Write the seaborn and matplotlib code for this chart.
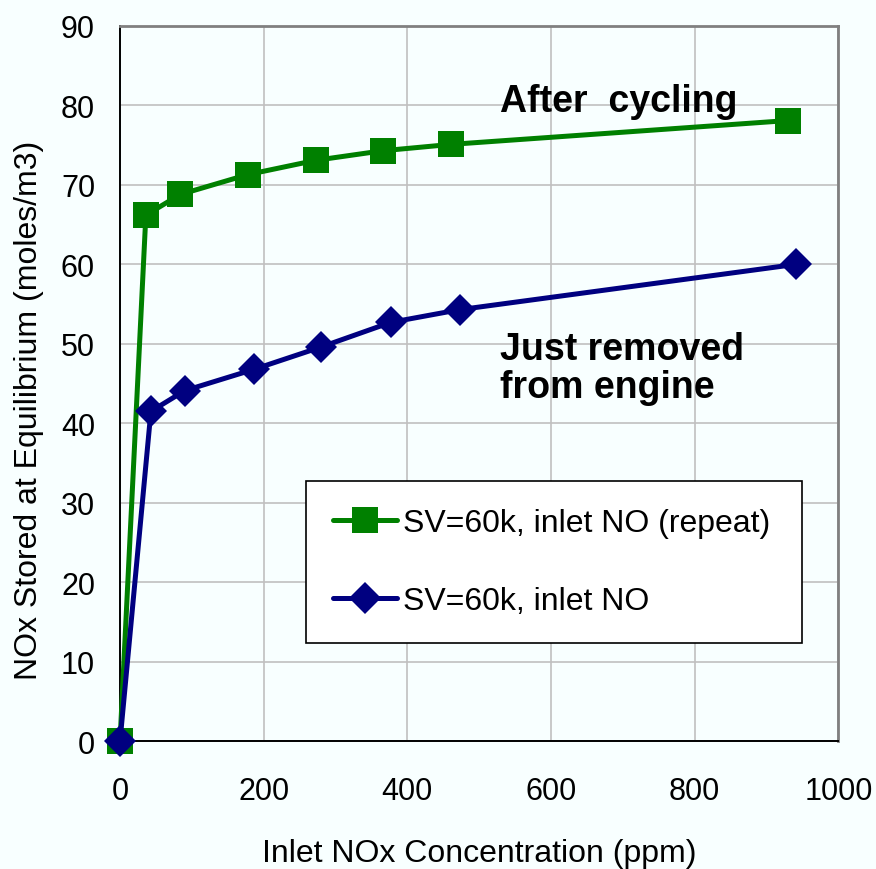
import matplotlib
matplotlib.use("Agg")
import matplotlib.pyplot as plt
from matplotlib.ticker import MultipleLocator
import seaborn as sns
import pandas as pd

# Equilibrium NOx storage vs inlet concentration
repeat_ppm = [0, 36, 84, 178, 273, 366, 461, 930]
repeat_stored = [0, 66.2, 68.8, 71.3, 73.1, 74.3, 75.1, 78.1]
fresh_ppm = [0, 43, 90, 187, 280, 377, 473, 941]
fresh_stored = [0, 41.5, 44.1, 46.8, 49.6, 52.7, 54.3, 60.0]

label_repeat = "SV=60k, inlet NO (repeat)"
label_fresh = "SV=60k, inlet NO"

df = pd.concat([
    pd.DataFrame({"ppm": repeat_ppm, "stored": repeat_stored, "series": label_repeat}),
    pd.DataFrame({"ppm": fresh_ppm, "stored": fresh_stored, "series": label_fresh}),
], ignore_index=True)

sns.set_theme(style="white")
plt.rcParams["font.family"] = ["Liberation Sans", "DejaVu Sans"]
plt.rcParams["text.color"] = "black"
plt.rcParams["axes.labelcolor"] = "black"
plt.rcParams["xtick.color"] = "black"
plt.rcParams["ytick.color"] = "black"

bg = "#f8ffff"
fig = plt.figure(figsize=(8.76, 8.70), dpi=100, facecolor=bg)
ax = fig.add_axes([0.137, 0.147, 0.820, 0.822])
ax.set_facecolor(bg)

sns.lineplot(data=df, x="ppm", y="stored", hue="series", style="series",
             palette={label_repeat: "#008000", label_fresh: "#000080"},
             markers={label_repeat: "s", label_fresh: "D"},
             dashes=False, linewidth=3.6, markersize=19,
             markeredgewidth=0, sort=False, ax=ax, zorder=3)
for line in ax.get_lines():
    line.set_clip_on(False)
    # diamond a touch smaller than the square
    if line.get_marker() == "D":
        line.set_markersize(16)

ax.set_xlim(0, 1000)
ax.set_ylim(0, 90)
ax.xaxis.set_major_locator(MultipleLocator(200))
ax.xaxis.set_minor_locator(MultipleLocator(40))
ax.yaxis.set_major_locator(MultipleLocator(10))
ax.yaxis.set_minor_locator(MultipleLocator(2))
for a in (ax.xaxis, ax.yaxis):
    a.grid(True, which="major", color="#c0c0c0", linewidth=1.2, zorder=0)
ax.set_axisbelow(True)

ax.tick_params(axis="both", which="major", direction="out", length=9, width=1.3,
               color="black", labelsize=22)
ax.tick_params(axis="both", which="minor", direction="in", length=6, width=1.1,
               color="black")
ax.tick_params(axis="x", which="major", pad=16)
ax.tick_params(axis="y", which="major", pad=9)

for side in ("left", "bottom"):
    ax.spines[side].set_color("black")
    ax.spines[side].set_linewidth(1.4)
for side in ("top", "right"):
    ax.spines[side].set_color("#808080")
    ax.spines[side].set_linewidth(2)
    ax.spines[side].set_visible(True)

ax.set_xlabel("Inlet NOx Concentration (ppm)", fontsize=23, labelpad=23)
ax.set_ylabel("NOx Stored at Equilibrium (moles/m3)", fontsize=23)
ax.yaxis.set_label_coords(-0.106, 0.464)

ax.text(529, 79.3, "After  cycling", fontsize=27, fontweight="bold",
        ha="left", va="baseline")
ax.text(529, 43.3, "Just removed\nfrom engine", fontsize=27, fontweight="bold",
        ha="left", va="baseline", linespacing=1.07)

leg = ax.legend(loc="lower left", bbox_to_anchor=(0.259, 0.137, 0.691, 0.225),
                mode="expand", frameon=True, fancybox=False, fontsize=23,
                handlelength=2.0, handletextpad=0.2, labelspacing=1.5,
                borderpad=0.85, borderaxespad=0)
leg.get_frame().set_edgecolor("black")
leg.get_frame().set_linewidth(1.2)
leg.get_frame().set_facecolor("white")
leg.get_frame().set_alpha(1)

fig.savefig("out.png", dpi=100, facecolor=bg)
